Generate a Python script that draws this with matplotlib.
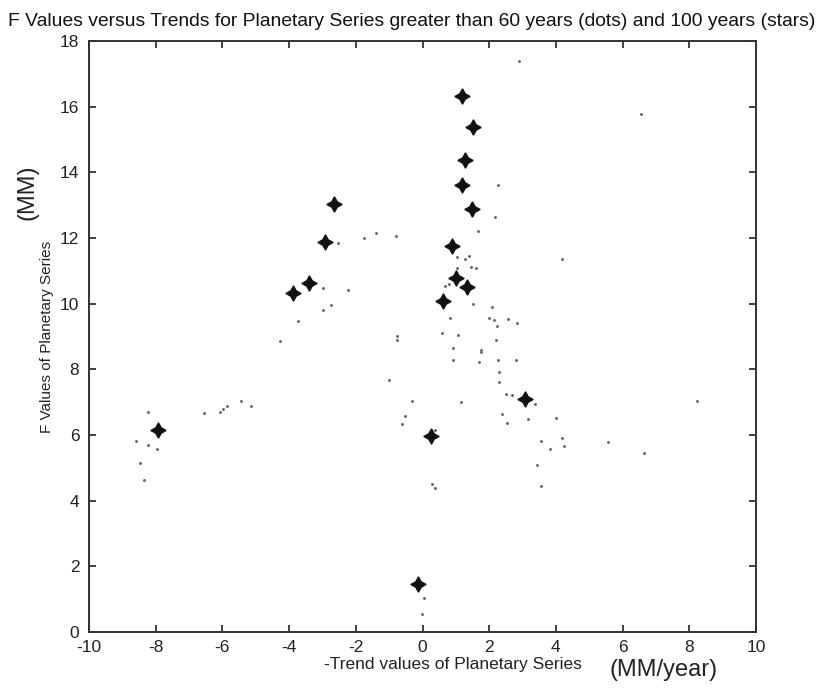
import matplotlib
matplotlib.use("Agg")
from matplotlib import pyplot as plt

plt.rcParams["font.family"] = ["Liberation Sans", "DejaVu Sans"]
plt.rcParams["axes.unicode_minus"] = False

# 100-year series (stars)
star_x = [-7.93, -3.87, -3.40, -2.93, -2.65, -0.12, 0.25, 0.62, 0.88,
          1.01, 1.34, 1.18, 1.27, 1.49, 1.52, 1.19, 3.07]
star_y = [6.14, 10.31, 10.64, 11.87, 13.04, 1.45, 5.97, 10.08, 11.76,
          10.79, 10.50, 13.61, 14.38, 12.89, 15.39, 16.32, 7.10]

# 60-year series (dots)
dot_x = [-8.23, -8.60, -8.24, -7.97, -8.47, -8.34,
         -6.54, -6.08, -5.98, -5.85, -5.43, -5.15,
         -2.54, -1.75, -1.39, -0.80,
         -2.97, -2.22, -2.74, -2.98, -3.72, -4.26,
         -0.77, -0.77,
         2.90, 2.26, 2.16, 1.65,
         1.03, 1.27, 1.40,
         1.04, 1.46, 1.60, 4.17,
         0.67, 0.78,
         1.50, 2.08, 0.83, 1.99, 2.13, 2.55, 2.83, 2.22,
         0.59, 1.07, 2.21, 0.92, 1.76, 1.76,
         0.91, 1.70, 2.26, 2.81, 2.30, 2.30,
         -1.01, 2.49, 2.68, 3.36, -0.31, 1.14,
         2.38, 4.01, 3.17, 2.52, -0.51, -0.60, 0.37,
         3.54, 4.18, 3.82, 4.23, 5.55, 3.43, 3.56,
         0.27, 0.36, 0.05, -0.01,
         6.55, 6.63, 8.24]
dot_y = [6.71, 5.81, 5.69, 5.57, 5.14, 4.64,
         6.66, 6.69, 6.80, 6.88, 7.04, 6.88,
         11.84, 11.99, 12.15, 12.07,
         10.48, 10.42, 9.96, 9.81, 9.48, 8.86,
         9.02, 8.90,
         17.40, 13.60, 12.65, 12.20,
         11.42, 11.37, 11.46,
         11.09, 11.13, 11.08, 11.35,
         10.55, 10.60,
         9.98, 9.90, 9.55, 9.57, 9.51, 9.52, 9.40, 9.31,
         9.10, 9.05, 8.90, 8.65, 8.59, 8.52,
         8.28, 8.22, 8.28, 8.28, 7.91, 7.62,
         7.67, 7.26, 7.22, 6.95, 7.05, 7.00,
         6.64, 6.53, 6.48, 6.37, 6.58, 6.34, 6.14,
         5.82, 5.90, 5.58, 5.65, 5.80, 5.08, 4.45,
         4.52, 4.38, 1.05, 0.54,
         15.77, 5.45, 7.03]

x_ticks = list(range(-10, 11, 2))
y_ticks = list(range(0, 19, 2))

fig = plt.figure(figsize=(8.38, 6.94), dpi=100)
ax = fig.add_axes([89 / 838, 62 / 694, 667 / 838, 591 / 694])

ax.plot(dot_x, dot_y, ".", color="#666666", markersize=2.2, linestyle="none")
ax.plot(star_x, star_y, marker=(4, 1, 0), color="#111111", markersize=11,
        linestyle="none")
ax.plot(star_x, star_y, marker="o", color="#111111", markersize=3.5,
        linestyle="none")

ax.set_xlim(-10, 10)
ax.set_ylim(0, 18)
ax.set_xticks(x_ticks)
ax.set_yticks(y_ticks)
ax.tick_params(direction="in", top=True, right=True, length=5, width=1.2,
               labelsize=12.5, colors="#222222")
ax.tick_params(axis="x", pad=6)
ax.tick_params(axis="y", pad=7)
for s in ax.spines.values():
    s.set_linewidth(1.4)
    s.set_color("#333333")

ax.set_ylabel("F Values of Planetary Series", fontsize=11, color="#222222")
ax.set_xlabel("-Trend values of Planetary Series", fontsize=12.5, color="#222222")
ax.xaxis.set_label_coords(0.545, -0.042)
ax.yaxis.set_label_coords(-0.053, 0.5)

fig.text(8 / 838, 1 - 22 / 694,
         "F Values versus Trends for Planetary Series greater than 60 years (dots) and 100 years (stars)",
         fontsize=13.9, va="center", ha="left", color="#111111")

# handwritten unit notes
fig.text(27 / 838, 1 - 192 / 694, "(MM)", rotation=90, fontsize=17,
         va="center", ha="center", color="#222222")
fig.text(664 / 838, 1 - 670 / 694, "(MM/year)", fontsize=17,
         va="center", ha="center", color="#222222")

fig.savefig("out.png", dpi=100)
